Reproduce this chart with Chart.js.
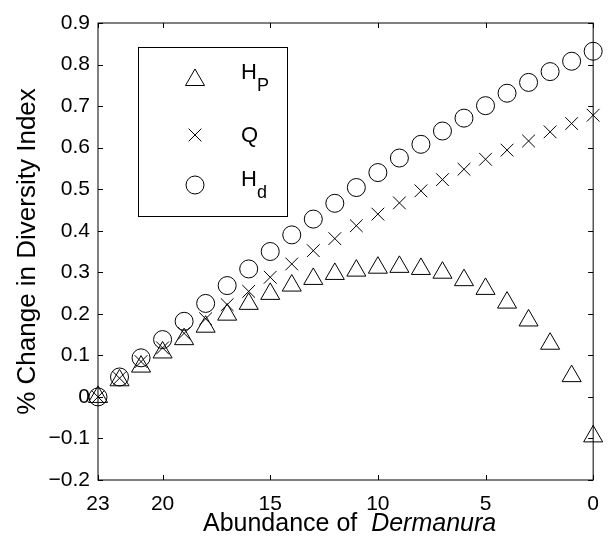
<!DOCTYPE html>
<html lang="en">
<head>
    <meta charset="UTF-8">
    <title>% Change in Diversity Index</title>
    <style>
        * { margin: 0; padding: 0; box-sizing: border-box; }
        body { background: #fff; }
        .chart-box { width: 611px; height: 540px; }
    </style>
</head>
<body>
    <div class="chart-box"><canvas id="divChart" width="611" height="540"></canvas></div>

    <script src="https://cdn.jsdelivr.net/npm/chart.js"></script>
    <script>
        // abundance of Dermanura left in the sample (axis runs 23 -> 0)
        const abundance = [23, 22, 21, 20, 19, 18, 17, 16, 15, 14, 13, 12, 11, 10, 9, 8, 7, 6, 5, 4, 3, 2, 1, 0];
        const hpChange = [0, 0.040, 0.073, 0.107, 0.139, 0.169, 0.198, 0.224, 0.248, 0.268, 0.284, 0.296, 0.304, 0.311, 0.313, 0.308, 0.299, 0.281, 0.260, 0.227, 0.184, 0.128, 0.050, -0.095];
        const qChange = [0, 0.045, 0.085, 0.118, 0.153, 0.188, 0.222, 0.254, 0.288, 0.320, 0.352, 0.381, 0.412, 0.440, 0.467, 0.496, 0.523, 0.548, 0.572, 0.594, 0.616, 0.638, 0.658, 0.678];
        const hdChange = [0, 0.048, 0.094, 0.138, 0.182, 0.225, 0.268, 0.308, 0.350, 0.390, 0.428, 0.466, 0.504, 0.540, 0.575, 0.608, 0.640, 0.671, 0.701, 0.731, 0.757, 0.783, 0.808, 0.832];
        const xTicks = [23, 20, 15, 10, 5, 0];
        const yTicks = [-0.2, -0.1, 0, 0.1, 0.2, 0.3, 0.4, 0.5, 0.6, 0.7, 0.8, 0.9];

        const FONT = "'Liberation Sans', Arial, Helvetica, sans-serif";
        const TICK_LEN = 5;

        const toPoints = vals => abundance.map((a, i) => ({ x: a, y: vals[i] }));

        const markers = [
            { label: 'H', sub: 'P', style: 'triangle', radius: 11, values: hpChange },
            { label: 'Q', sub: '', style: 'crossRot', radius: 9, values: qChange },
            { label: 'H', sub: 'd', style: 'circle', radius: 9, values: hdChange }
        ];

        // box, inward ticks, legend with subscripts and the mixed-style x label
        const matlabLook = {
            id: 'matlabLook',
            afterDatasetsDraw(chart) {
                const { ctx, chartArea: a, scales: { x, y } } = chart;
                ctx.save();
                ctx.strokeStyle = '#000';
                ctx.lineWidth = 1;
                ctx.strokeRect(a.left, a.top, a.right - a.left, a.bottom - a.top);
                ctx.beginPath();
                xTicks.forEach(v => {
                    const px = Math.round(x.getPixelForValue(v)) + 0.5;
                    ctx.moveTo(px, a.bottom); ctx.lineTo(px, a.bottom - TICK_LEN);
                    ctx.moveTo(px, a.top); ctx.lineTo(px, a.top + TICK_LEN);
                });
                yTicks.forEach(v => {
                    const py = Math.round(y.getPixelForValue(v)) + 0.5;
                    ctx.moveTo(a.left, py); ctx.lineTo(a.left + TICK_LEN, py);
                    ctx.moveTo(a.right, py); ctx.lineTo(a.right - TICK_LEN, py);
                });
                ctx.stroke();
                ctx.restore();
            },
            afterDraw(chart) {
                const { ctx, chartArea: a } = chart;
                ctx.save();

                // legend
                ctx.fillStyle = '#fff';
                ctx.fillRect(139, 48, 148, 169);
                ctx.strokeStyle = '#000';
                ctx.lineWidth = 1;
                ctx.strokeRect(138.5, 47.5, 149, 169);
                const rowY = [80, 135, 185];
                const baseY = [79, 142, 186];
                markers.forEach((m, i) => {
                    ctx.fillStyle = 'rgba(0,0,0,0)';
                    ctx.strokeStyle = '#000';
                    Chart.helpers.drawPoint(ctx, { pointStyle: m.style, radius: m.radius, borderWidth: 1, rotation: 0 }, 195, rowY[i]);
                    ctx.fillStyle = '#000';
                    ctx.textBaseline = 'alphabetic';
                    ctx.textAlign = 'left';
                    ctx.font = '22px ' + FONT;
                    ctx.fillText(m.label, 241, baseY[i]);
                    if (m.sub) {
                        const w = ctx.measureText(m.label).width;
                        ctx.font = '18px ' + FONT;
                        ctx.fillText(m.sub, 241 + w, baseY[i] + 12);
                    }
                });

                // x axis label: "Abundance of  Dermanura"
                const plain = 'Abundance of  ';
                const ital = 'Dermanura';
                ctx.font = '25px ' + FONT;
                const w1 = ctx.measureText(plain).width;
                ctx.font = 'italic 25px ' + FONT;
                const w2 = ctx.measureText(ital).width;
                const startX = (a.left + a.right) / 2 + 4 - (w1 + w2) / 2;
                ctx.fillStyle = '#000';
                ctx.textAlign = 'left';
                ctx.textBaseline = 'alphabetic';
                ctx.font = '25px ' + FONT;
                ctx.fillText(plain, startX, 531);
                ctx.font = 'italic 25px ' + FONT;
                ctx.fillText(ital, startX + w1, 531);
                ctx.restore();
            }
        };

        const fmtY = v => {
            if (Math.abs(v) < 1e-9) return '0';
            return v.toFixed(1).replace('-', '\u2212');
        };

        new Chart(document.getElementById('divChart'), {
            type: 'scatter',
            data: {
                datasets: markers.map(m => ({
                    label: m.label + m.sub,
                    data: toPoints(m.values),
                    pointStyle: m.style,
                    pointRadius: m.radius,
                    pointHoverRadius: m.radius,
                    pointBorderWidth: 1,
                    pointBorderColor: '#000',
                    pointBackgroundColor: 'rgba(0,0,0,0)',
                    showLine: false,
                    clip: false
                }))
            },
            options: {
                responsive: false,
                animation: false,
                events: [],
                layout: { padding: { top: 23, right: 7, bottom: 0, left: 0 } },
                plugins: { legend: { display: false }, tooltip: { enabled: false } },
                scales: {
                    x: {
                        type: 'linear',
                        reverse: true,
                        min: 0,
                        max: 23,
                        grid: { display: false, drawTicks: false },
                        border: { display: false },
                        afterBuildTicks: s => { s.ticks = xTicks.map(v => ({ value: v })); },
                        afterFit: s => { s.height = 60; },
                        ticks: { color: '#000', padding: 12, maxRotation: 0, font: { family: FONT, size: 21 } }
                    },
                    y: {
                        min: -0.2,
                        max: 0.9,
                        grid: { display: false, drawTicks: false },
                        border: { display: false },
                        afterBuildTicks: s => { s.ticks = yTicks.map(v => ({ value: v })); },
                        afterFit: s => { s.width = 98; },
                        ticks: { color: '#000', padding: 8, font: { family: FONT, size: 21 }, callback: v => fmtY(v) },
                        title: {
                            display: true,
                            text: '% Change in Diversity Index',
                            color: '#000',
                            font: { family: FONT, size: 26 },
                            padding: { top: 12, bottom: 0 }
                        }
                    }
                }
            },
            plugins: [matlabLook]
        });
    </script>
</body>
</html>
